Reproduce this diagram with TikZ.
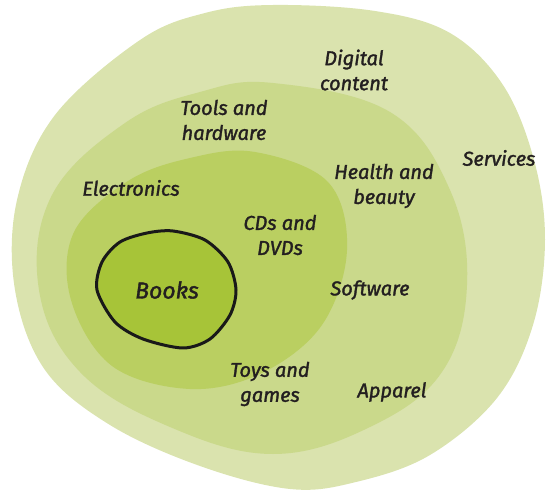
\documentclass[tikz,border=0pt]{standalone}
\usepackage{fontspec}
\setmainfont{Fira Sans}[ItalicFeatures={FakeBold=1.6}]
\usepackage{xcolor}
\usepackage{tikz}
\definecolor{ringa}{RGB}{218,227,174}
\definecolor{ringb}{RGB}{202,217,139}
\definecolor{ringc}{RGB}{186,207,97}
\definecolor{ringd}{RGB}{167,196,56}
\definecolor{figtext}{RGB}{35,31,32}
\tikzset{
  lab/.style  ={font=\fontsize{20}{25}\selectfont\itshape, text=figtext, align=center, inner sep=1pt},
  labb/.style ={font=\fontsize{23}{25}\selectfont\itshape, text=figtext, inner sep=1pt},
  blob/.style ={draw=none},
  rim/.style  ={draw=black!90, line width=3pt, line join=round},
}

\begin{document}
\begin{tikzpicture}[x=1pt,y=-1pt]
  \useasboundingbox (0,0) rectangle (547,492);
  \fill[blob,ringa] plot[smooth cycle,tension=0.6] coordinates {(273,5) (375,11) (450,33) (503,85) (534,160) (545,240) (533,325) (497,398) (430,455) (356,482) (290,489) (200,466) (110,425) (45,370) (15,290) (17,200) (55,115) (140,40) (205,13)};
  \fill[blob,ringb] plot[smooth cycle,tension=0.65] coordinates {(273,83) (390,112) (450,190) (467,285) (442,372) (370,427) (273,454) (170,427) (80,372) (39,290) (52,195) (125,123) (200,92)};
  \fill[blob,ringc] plot[smooth cycle,tension=0.6] coordinates {(255,152) (328,182) (347,250) (322,325) (262,373) (190,389) (112,366) (71,300) (74,232) (128,181) (190,158)};
  \fill[blob,ringd] plot[smooth cycle] coordinates {(173,231) (205,240) (228,262) (236,290) (230,315) (210,339) (183,348) (143,339) (115,322) (97,290) (102,262) (120,242) (147,233)};
  \draw[rim] plot[smooth cycle] coordinates {(173,231) (205,240) (228,262) (236,290) (230,315) (210,339) (183,348) (143,339) (115,322) (97,290) (102,262) (120,242) (147,233)};
  \node[labb] (books) at (167,290) {Books};
  \node[lab] (digital) at (354,70) {Digital\\content};
  \node[lab] (tools) at (224,120) {Tools and\\hardware};
  \node[lab] (services) at (499,158) {Services};
  \node[lab] (health) at (384,186) {Health and\\beauty};
  \node[lab] (elec) at (131,188) {Electronics};
  \node[lab] (cds) at (280,235) {CDs and\\DVDs};
  \node[lab] (software) at (370,290) {Software};
  \node[lab] (toys) at (270,384) {Toys and\\games};
  \node[lab] (apparel) at (392,392) {Apparel};
\end{tikzpicture}
\end{document}
